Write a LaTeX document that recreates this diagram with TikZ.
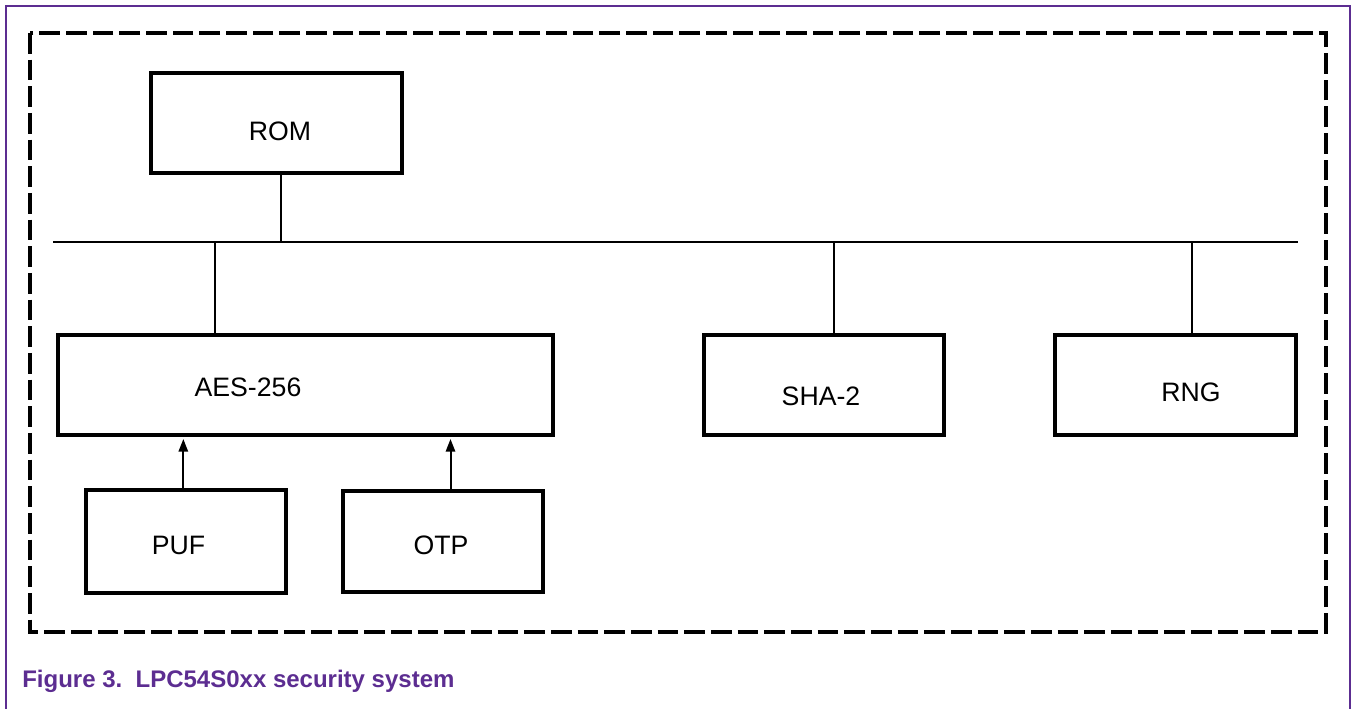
\documentclass[tikz,border=0pt]{standalone}
\usepackage{fontspec}
\setmainfont{Liberation Sans}
\usetikzlibrary{arrows.meta}
\definecolor{nxppurple}{RGB}{92,45,145}
\tikzset{
  block/.style={rectangle, draw, line width=3pt, minimum height=75pt, inner sep=0pt},
  bus/.style={line width=1.5pt},
  arrow/.style={-{Triangle[length=9.5pt, width=7pt]}, line width=1.5pt, shorten >=1.5pt},
}

\begin{document}
\begin{tikzpicture}[x=0.75pt, y=-0.75pt, font=\fontsize{20}{24}\selectfont]
  \useasboundingbox (0,0) rectangle (1354,709);

  % Frame
  \draw[nxppurple, line width=1.5pt] (6,715) -- (6,6) -- (1350,6) -- (1350,715);
  \draw[line width=3pt, dash pattern=on 15.5pt off 4.5pt] (30,33) rectangle (1326,632);

  % Nodes
  \node[block, minimum width=188pt] (rom) at (276.5,123) {};
  \node (romtext) at (280,131) {ROM};
  \node[block, minimum width=371pt] (aes) at (305.5,385) {};
  \node (aestext) at (248,387) {AES-256};
  \node[block, minimum width=180pt] (sha) at (824,385) {};
  \node (shatext) at (821,396) {SHA-2};
  \node[block, minimum width=181pt] (rng) at (1175.5,385) {};
  \node (rngtext) at (1191,392) {RNG};
  \node[block, minimum width=150pt, minimum height=77pt] (puf) at (186,541.5) {};
  \node (puftext) at (178.5,545) {PUF};
  \node[block, minimum width=150pt, minimum height=76pt] (otp) at (442.5,541.5) {};
  \node (otptext) at (441,545) {OTP};

  % Bus
  \coordinate (busl) at (53,242);
  \coordinate (busr) at (1298,242);
  \coordinate (romtap) at (281,242);
  \coordinate (aestap) at (215,242);
  \coordinate (shatap) at (834,242);
  \coordinate (rngtap) at (1192,242);
  \draw[bus] (busl) -- (busr);
  \draw[bus] (romtap) -- (romtap |- rom.south);
  \draw[bus] (aestap) -- (aestap |- aes.north);
  \draw[bus] (shatap) -- (shatap |- sha.north);
  \draw[bus] (rngtap) -- (rngtap |- rng.north);

  % Arrows
  \draw[arrow] ([xshift=-2pt]puf.north) -- ([xshift=-2pt]puf.north |- aes.south);
  \draw[arrow] ([xshift=6pt]otp.north) -- ([xshift=6pt]otp.north |- aes.south);

  % Caption
  \node[anchor=base west, inner sep=0pt, text=nxppurple, font=\bfseries\fontsize{18}{22}\selectfont] (caption) at (22,687) {Figure 3.\ \ LPC54S0xx security system};

\end{tikzpicture}
\end{document}
